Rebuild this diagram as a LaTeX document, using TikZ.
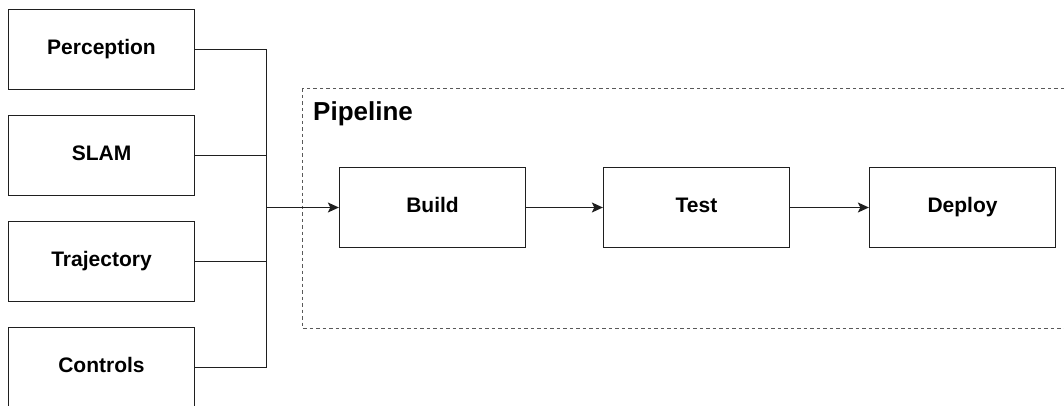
\documentclass[tikz,border=0pt]{standalone}
\usepackage{fontspec}
\setmainfont{Liberation Sans}
\usetikzlibrary{arrows.meta}
\begin{document}
\begin{tikzpicture}[x=1pt,y=-1pt,
  box/.style={draw=black!88, line width=1.25pt, rectangle, minimum width=186pt, minimum height=80pt, inner sep=0pt,
    text height=14.5pt, text depth=5pt,
    font=\fontsize{21}{24}\selectfont\bfseries},
  conn/.style={draw=black!88, line width=1.25pt},
  arr/.style={conn, -{Stealth[length=11pt,width=10pt,inset=2.5pt]}},
  group/.style={draw=black!65, line width=1.2pt, dash pattern=on 3.5pt off 3pt}]
\useasboundingbox (0,0) rectangle (1064,406);
\clip (0,0) rectangle (1064,406);
\draw[group] (302.5,88.5) rectangle (1090,328.5);
\node[anchor=base west, font=\fontsize{26}{30}\selectfont\bfseries, inner sep=0pt] (plabel) at (313,120.5) {Pipeline};
\node[box] (per) at (101.5,49.5) {Perception};
\node[box] (slam) at (101.5,155.5) {SLAM};
\node[box] (traj) at (101.5,261.5) {Trajectory};
\node[box] (ctrl) at (101.5,367.5) {Controls};
\node[box] (build) at (432.5,207.5) {Build};
\node[box] (test) at (696.5,207.5) {Test};
\node[box] (deploy) at (962.5,207.5) {Deploy};
\coordinate (j) at (266.5,207.5);
\draw[conn] (per.east) -| (j);
\draw[conn] (slam.east) -| (j);
\draw[conn] (traj.east) -| (j);
\draw[conn] (ctrl.east) -| (j);
\draw[arr] (j) -- (build.west);
\draw[arr] (build) -- (test);
\draw[arr] (test) -- (deploy);
\end{tikzpicture}
\end{document}
